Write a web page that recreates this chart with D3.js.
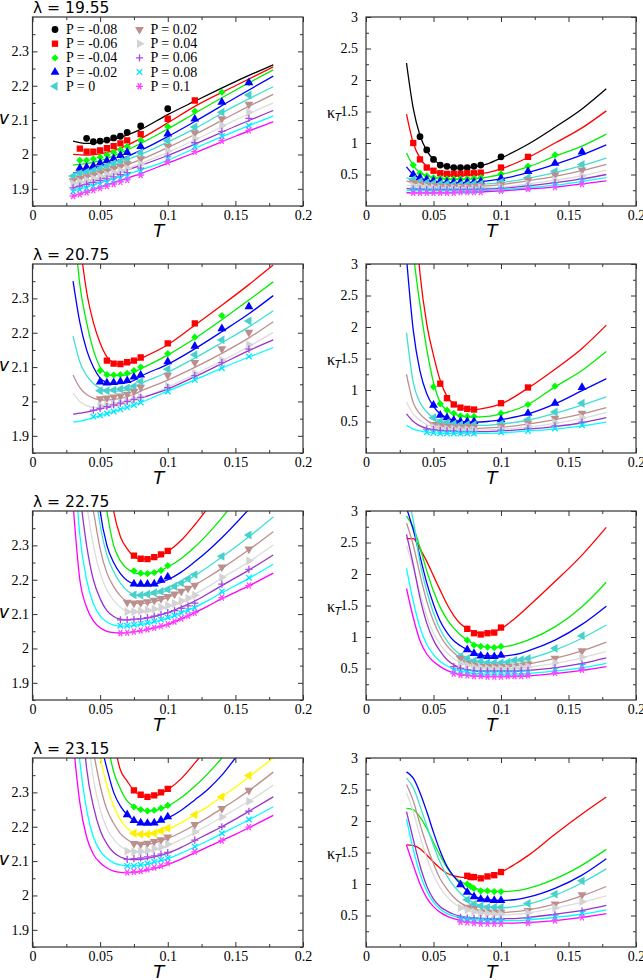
<!DOCTYPE html>
<html>
<head>
<meta charset="utf-8">
<script src="https://cdn.jsdelivr.net/npm/d3@7"></script>
<style>
body { margin: 0; background: #fff; }
svg { display: block; }
.serif { font-family: "Liberation Serif", "Times New Roman", Times, serif; }
.sans { font-family: "DejaVu Sans", sans-serif; }
</style>
</head>
<body>
<script>
// series: one per pressure
var pLabels = ["P = -0.08", "P = -0.06", "P = -0.04", "P = -0.02", "P = 0",
               "P = 0.02", "P = 0.04", "P = 0.06", "P = 0.08", "P = 0.1"];
var lineColors = ["#000000", "#ff0000", "#00ee00", "#0000ff", "#40e0d0",
                  "#bc8f8f", "#dcdcdc", "#9932cc", "#00ffff", "#ff00ff"];
var markColors = ["#000000", "#ff0000", "#00ff00", "#0000ff", "#48d1cc",
                  "#bc8f8f", "#d3d3d3", "#a64ce6", "#00e5ff", "#ff44ff"];
var shapes = ["circle", "square", "diamond", "up", "left", "down", "right", "plus", "cross", "star"];

// lambda = 19.55, v
var aLineT = [0.03, 0.04, 0.05, 0.06, 0.08, 0.1, 0.12, 0.15, 0.178];
var aLineV = [
  [2.039, 2.032, 2.036, 2.044, 2.073, 2.116, 2.155, 2.212, 2.261],
  [2.000, 1.998, 2.002, 2.011, 2.046, 2.092, 2.140, 2.200, 2.255],
  [1.969, 1.973, 1.982, 1.996, 2.032, 2.074, 2.120, 2.187, 2.246],
  [1.946, 1.955, 1.965, 1.978, 2.012, 2.052, 2.096, 2.165, 2.228],
  [1.937, 1.946, 1.957, 1.970, 2.000, 2.036, 2.075, 2.142, 2.197],
  [1.926, 1.934, 1.945, 1.957, 1.985, 2.020, 2.058, 2.120, 2.175],
  [1.914, 1.924, 1.935, 1.946, 1.974, 2.006, 2.042, 2.100, 2.150],
  [1.903, 1.915, 1.928, 1.941, 1.968, 1.997, 2.030, 2.082, 2.128],
  [1.894, 1.905, 1.917, 1.929, 1.955, 1.983, 2.018, 2.068, 2.112],
  [1.879, 1.892, 1.905, 1.918, 1.944, 1.975, 2.005, 2.053, 2.095]
];
var aMarkT = [0.03, 0.035, 0.04, 0.045, 0.05, 0.055, 0.06, 0.065, 0.07, 0.08, 0.1, 0.12, 0.14, 0.16];
var aMarkV = [
  [null, null, 2.047, 2.037, 2.039, 2.042, 2.048, 2.053, 2.064, 2.083, 2.133, null, null, null],
  [null, 2.017, 2.008, 2.008, 2.012, 2.018, 2.024, 2.032, 2.041, 2.059, 2.104, 2.157, null, null],
  [null, 1.983, 1.983, 1.987, 1.992, 1.999, 2.006, 2.014, 2.023, 2.041, 2.081, 2.126, 2.181, 2.209],
  [null, 1.960, 1.963, 1.967, 1.975, 1.982, 1.988, 1.997, 2.006, 2.023, 2.060, 2.103, 2.152, 2.209],
  [1.937, 1.945, 1.949, 1.953, 1.959, 1.966, 1.974, 1.980, 1.987, 2.005, 2.040, 2.080, 2.123, 2.173],
  [1.923, 1.930, 1.935, 1.940, 1.946, 1.952, 1.959, 1.965, 1.973, 1.987, 2.024, 2.063, 2.104, 2.146],
  [1.915, 1.920, 1.925, 1.930, 1.936, 1.941, 1.947, 1.953, 1.959, 1.972, 2.010, 2.046, 2.084, 2.123],
  [1.903, 1.908, 1.913, 1.918, 1.924, 1.929, 1.935, 1.941, 1.947, 1.960, 1.995, 2.034, 2.067, 2.105],
  [1.892, 1.897, 1.902, 1.907, 1.913, 1.918, 1.924, 1.930, 1.936, 1.950, 1.987, 2.023, 2.053, 2.084],
  [1.879, 1.884, 1.890, 1.896, 1.902, 1.908, 1.914, 1.920, 1.926, 1.940, 1.978, 2.008, 2.040, 2.070]
];

// lambda = 19.55, kappa_T
var bLineT = [0.03, 0.035, 0.04, 0.045, 0.05, 0.055, 0.06, 0.07, 0.08, 0.09, 0.1, 0.12, 0.14, 0.16, 0.178];
var bLineK = [
  [2.27, 1.55, 1.12, 0.88, 0.74, 0.66, 0.62, 0.60, 0.62, 0.67, 0.76, 0.98, 1.25, 1.54, 1.86],
  [1.46, 1.00, 0.76, 0.63, 0.56, 0.52, 0.50, 0.49, 0.50, 0.53, 0.59, 0.77, 1.00, 1.24, 1.51],
  [0.84, 0.64, 0.53, 0.48, 0.45, 0.44, 0.43, 0.42, 0.43, 0.46, 0.50, 0.62, 0.79, 0.95, 1.14],
  [0.62, 0.50, 0.44, 0.41, 0.39, 0.38, 0.37, 0.37, 0.38, 0.40, 0.43, 0.53, 0.66, 0.81, 0.97],
  [0.45, 0.41, 0.38, 0.36, 0.35, 0.345, 0.34, 0.33, 0.34, 0.35, 0.37, 0.44, 0.53, 0.64, 0.76],
  [0.40, 0.37, 0.35, 0.33, 0.32, 0.315, 0.31, 0.31, 0.31, 0.32, 0.34, 0.40, 0.47, 0.56, 0.66],
  [0.33, 0.32, 0.31, 0.30, 0.29, 0.285, 0.28, 0.28, 0.28, 0.29, 0.30, 0.35, 0.41, 0.48, 0.57],
  [0.28, 0.27, 0.27, 0.26, 0.26, 0.26, 0.26, 0.26, 0.26, 0.27, 0.28, 0.32, 0.37, 0.43, 0.50],
  [0.25, 0.245, 0.24, 0.24, 0.24, 0.24, 0.24, 0.24, 0.24, 0.25, 0.26, 0.29, 0.33, 0.39, 0.45],
  [0.21, 0.21, 0.21, 0.21, 0.21, 0.21, 0.21, 0.22, 0.22, 0.23, 0.24, 0.27, 0.30, 0.35, 0.40]
];
var bMarkT = [0.035, 0.04, 0.045, 0.05, 0.055, 0.06, 0.065, 0.07, 0.075, 0.08, 0.085, 0.1, 0.12, 0.14, 0.16];
var bMarkK = [
  [null, 1.10, 0.89, 0.74, 0.65, 0.63, 0.61, 0.61, 0.61, 0.63, 0.65, 0.78, null, null, null],
  [1.00, 0.74, 0.61, 0.56, 0.52, 0.51, 0.51, 0.51, 0.52, 0.52, 0.53, 0.61, 0.78, null, null],
  [0.65, 0.52, 0.48, 0.45, 0.44, 0.43, 0.43, 0.43, 0.43, 0.44, 0.45, 0.51, 0.63, 0.81, null],
  [0.50, 0.45, 0.42, 0.40, 0.39, 0.38, 0.38, 0.38, 0.38, 0.38, 0.39, 0.44, 0.55, 0.68, 0.86],
  [0.42, 0.39, 0.37, 0.36, 0.35, 0.35, 0.34, 0.34, 0.34, 0.35, 0.35, 0.38, 0.45, 0.55, 0.66],
  [0.37, 0.35, 0.33, 0.32, 0.31, 0.31, 0.31, 0.31, 0.31, 0.31, 0.32, 0.34, 0.41, 0.49, 0.57],
  [0.32, 0.31, 0.30, 0.29, 0.28, 0.28, 0.28, 0.28, 0.28, 0.28, 0.29, 0.30, 0.35, 0.41, 0.48],
  [0.27, 0.27, 0.26, 0.26, 0.26, 0.26, 0.26, 0.26, 0.26, 0.26, 0.27, 0.28, 0.32, 0.37, 0.43],
  [0.25, 0.24, 0.24, 0.24, 0.24, 0.24, 0.24, 0.24, 0.24, 0.24, 0.25, 0.26, 0.29, 0.33, 0.39],
  [0.21, 0.21, 0.21, 0.21, 0.21, 0.21, 0.21, 0.22, 0.22, 0.22, 0.22, 0.24, 0.27, 0.30, 0.35]
];

// lambda = 20.75, v
var cLineT = [0.03, 0.035, 0.04, 0.045, 0.05, 0.055, 0.06, 0.065, 0.07, 0.075, 0.08, 0.1, 0.12, 0.14, 0.16, 0.178];
var cLineV = [
  null,
  [2.7, 2.47, 2.32, 2.23, 2.17, 2.13, 2.113, 2.108, 2.11, 2.116, 2.125, 2.165, 2.222, 2.28, 2.34, 2.397],
  [2.55, 2.34, 2.23, 2.15, 2.10, 2.08, 2.075, 2.075, 2.078, 2.085, 2.095, 2.135, 2.183, 2.238, 2.295, 2.348],
  [2.35, 2.23, 2.15, 2.10, 2.068, 2.055, 2.052, 2.052, 2.055, 2.061, 2.073, 2.108, 2.153, 2.203, 2.255, 2.308],
  [2.19, 2.115, 2.075, 2.052, 2.038, 2.032, 2.030, 2.031, 2.034, 2.042, 2.052, 2.085, 2.126, 2.171, 2.217, 2.264],
  [2.077, 2.04, 2.02, 2.01, 2.005, 2.004, 2.006, 2.009, 2.014, 2.021, 2.030, 2.062, 2.099, 2.140, 2.185, 2.232],
  [2.024, 2.0, 1.988, 1.983, 1.982, 1.984, 1.987, 1.991, 1.996, 2.002, 2.008, 2.042, 2.079, 2.118, 2.160, 2.201],
  [1.963, 1.966, 1.969, 1.973, 1.978, 1.982, 1.987, 1.992, 1.998, 2.004, 2.010, 2.036, 2.072, 2.110, 2.148, 2.179],
  [1.940, 1.943, 1.947, 1.953, 1.959, 1.965, 1.971, 1.977, 1.983, 1.990, 1.997, 2.030, 2.063, 2.097, 2.129, 2.157],
  null
];
var cMarkT = [0.045, 0.05, 0.055, 0.06, 0.065, 0.07, 0.075, 0.08, 0.1, 0.12, 0.14, 0.16];
var cMarkV = [
  null,
  [null, null, 2.119, 2.110, 2.109, 2.114, 2.119, 2.128, 2.169, 2.227, null, null],
  [null, 2.090, 2.078, 2.077, 2.078, 2.082, 2.090, 2.100, 2.139, 2.187, 2.250, null],
  [null, 2.057, 2.054, 2.055, 2.058, 2.061, 2.071, 2.077, 2.116, 2.161, 2.212, 2.276],
  [null, 2.031, 2.031, 2.033, 2.036, 2.039, 2.044, 2.058, 2.094, 2.136, 2.179, 2.234],
  [null, 2.008, 2.010, 2.013, 2.016, 2.021, 2.029, 2.041, 2.076, 2.113, 2.153, 2.201],
  [null, 1.988, 1.990, 1.993, 1.997, 2.001, 2.007, 2.013, 2.045, 2.082, 2.120, 2.165],
  [1.975, 1.980, 1.985, 1.990, 1.995, 2.000, 2.006, 2.012, 2.040, 2.075, 2.113, 2.152],
  [1.956, 1.960, 1.965, 1.971, 1.977, 1.983, 1.990, 1.997, 2.029, 2.063, 2.097, 2.131],
  null
];

// lambda = 20.75, kappa_T
var dLineT = [0.03, 0.035, 0.04, 0.045, 0.05, 0.055, 0.06, 0.065, 0.07, 0.08, 0.09, 0.1, 0.12, 0.14, 0.16, 0.178];
var dLineK = [
  null,
  [null, 4.2, 2.85, 2.05, 1.55, 1.15, 0.90, 0.78, 0.72, 0.69, 0.72, 0.78, 1.03, 1.33, 1.66, 2.03],
  [4.5, 3.2, 2.35, 1.65, 1.12, 0.80, 0.68, 0.62, 0.59, 0.57, 0.58, 0.62, 0.77, 1.05, 1.31, 1.61],
  [3.1, 1.95, 1.30, 0.94, 0.74, 0.62, 0.56, 0.52, 0.50, 0.49, 0.50, 0.53, 0.62, 0.78, 0.99, 1.18],
  [1.91, 1.12, 0.80, 0.65, 0.56, 0.51, 0.48, 0.46, 0.45, 0.44, 0.44, 0.46, 0.52, 0.63, 0.76, 0.89],
  [1.25, 0.80, 0.62, 0.52, 0.46, 0.43, 0.41, 0.40, 0.40, 0.39, 0.40, 0.41, 0.46, 0.53, 0.62, 0.72],
  [0.81, 0.62, 0.52, 0.45, 0.41, 0.39, 0.38, 0.37, 0.37, 0.36, 0.37, 0.38, 0.41, 0.47, 0.55, 0.64],
  [0.62, 0.50, 0.43, 0.39, 0.37, 0.36, 0.35, 0.34, 0.34, 0.34, 0.34, 0.35, 0.38, 0.42, 0.48, 0.56],
  [0.44, 0.38, 0.35, 0.33, 0.32, 0.315, 0.31, 0.31, 0.31, 0.31, 0.31, 0.32, 0.35, 0.38, 0.43, 0.49],
  null
];
var dMarkT = [0.045, 0.05, 0.055, 0.06, 0.065, 0.07, 0.075, 0.08, 0.1, 0.12, 0.14, 0.16];
var dMarkK = [
  null,
  [null, null, 1.10, 0.87, 0.77, 0.72, 0.70, 0.69, 0.79, 1.04, null, null],
  [null, 1.05, 0.78, 0.68, 0.63, 0.59, 0.58, 0.58, 0.63, 0.77, 1.06, null],
  [null, 0.76, 0.60, 0.56, 0.52, 0.50, 0.50, 0.50, 0.53, 0.63, 0.79, 1.04],
  [null, 0.56, 0.50, 0.48, 0.46, 0.45, 0.45, 0.45, 0.46, 0.53, 0.65, 0.79],
  [null, 0.45, 0.43, 0.42, 0.41, 0.41, 0.41, 0.41, 0.42, 0.47, 0.55, 0.63],
  [null, 0.41, 0.39, 0.38, 0.38, 0.37, 0.37, 0.37, 0.38, 0.42, 0.48, 0.56],
  [0.38, 0.37, 0.36, 0.35, 0.35, 0.34, 0.34, 0.34, 0.36, 0.39, 0.43, 0.49],
  [0.33, 0.32, 0.31, 0.31, 0.31, 0.31, 0.31, 0.31, 0.33, 0.35, 0.39, 0.44],
  null
];

// lambda = 22.75, v
var eLineT = [0.03, 0.035, 0.04, 0.045, 0.05, 0.055, 0.06, 0.065, 0.07, 0.08, 0.09, 0.1, 0.11, 0.12, 0.13, 0.14, 0.16, 0.178];
var eLineV = [
  null,
  [null, null, null, null, null, 2.55, 2.40, 2.325, 2.29, 2.260, 2.262, 2.282, 2.315, 2.36, 2.41, 2.46, null, null],
  [null, null, null, null, 2.55, 2.40, 2.30, 2.255, 2.232, 2.217, 2.221, 2.237, 2.262, 2.295, 2.335, 2.38, 2.48, null],
  [null, null, null, 2.6, 2.40, 2.30, 2.25, 2.218, 2.198, 2.184, 2.187, 2.2, 2.222, 2.252, 2.285, 2.322, 2.405, null],
  [null, null, null, 2.5, 2.36, 2.272, 2.224, 2.19, 2.168, 2.153, 2.158, 2.168, 2.188, 2.212, 2.238, 2.266, 2.325, 2.383],
  [null, null, 2.5, 2.40, 2.29, 2.22, 2.18, 2.153, 2.137, 2.130, 2.136, 2.148, 2.165, 2.185, 2.208, 2.233, 2.287, 2.34],
  [null, null, 2.42, 2.30, 2.22, 2.17, 2.14, 2.12, 2.108, 2.104, 2.11, 2.12, 2.138, 2.158, 2.18, 2.205, 2.252, 2.301],
  [null, 2.45, 2.30, 2.20, 2.145, 2.11, 2.093, 2.085, 2.083, 2.086, 2.093, 2.104, 2.12, 2.138, 2.16, 2.183, 2.228, 2.272],
  [2.6, 2.33, 2.20, 2.13, 2.095, 2.077, 2.068, 2.065, 2.065, 2.07, 2.077, 2.088, 2.104, 2.12, 2.14, 2.162, 2.204, 2.245],
  [2.42, 2.20, 2.12, 2.08, 2.06, 2.05, 2.046, 2.045, 2.046, 2.051, 2.06, 2.07, 2.086, 2.104, 2.124, 2.145, 2.182, 2.219]
];
var eMarkT = [0.065, 0.07, 0.075, 0.08, 0.085, 0.09, 0.095, 0.1, 0.105, 0.11, 0.115, 0.12, 0.14, 0.16];
var eMarkV = [
  null,
  [null, null, 2.270, 2.261, 2.260, 2.266, 2.274, 2.284, null, null, null, null, null, null],
  [null, null, 2.226, 2.219, 2.218, 2.221, 2.227, 2.241, null, null, null, null, null, null],
  [null, null, 2.188, 2.187, 2.187, 2.188, 2.199, 2.208, null, null, null, null, null, null],
  [null, null, 2.156, 2.155, 2.158, 2.162, 2.166, 2.172, 2.181, 2.191, 2.203, 2.215, 2.268, 2.330],
  [null, 2.134, 2.132, 2.133, 2.136, 2.140, 2.145, 2.151, 2.158, 2.166, 2.175, 2.184, 2.237, 2.289],
  [null, 2.107, 2.107, 2.109, 2.112, 2.115, 2.120, 2.125, 2.131, 2.138, 2.146, 2.155, 2.207, 2.255],
  [2.083, 2.083, 2.085, 2.087, 2.090, 2.094, 2.099, 2.104, 2.110, 2.117, 2.124, 2.132, 2.187, 2.230],
  [2.066, 2.066, 2.069, 2.072, 2.075, 2.079, 2.084, 2.090, 2.096, 2.103, 2.110, 2.118, 2.166, 2.206],
  [2.045, 2.046, 2.049, 2.052, 2.056, 2.060, 2.065, 2.070, 2.078, 2.087, 2.095, 2.104, 2.148, 2.183]
];

// lambda = 22.75, kappa_T
var fLineT = [0.03, 0.035, 0.04, 0.045, 0.05, 0.055, 0.06, 0.065, 0.07, 0.075, 0.08, 0.085, 0.09, 0.1, 0.11, 0.12, 0.14, 0.16, 0.178];
var fLineK = [
  null,
  [2.56, 2.56, 2.40, 2.20, 1.97, 1.74, 1.52, 1.34, 1.21, 1.13, 1.08, 1.065, 1.07, 1.13, 1.29, 1.48, 1.88, 2.30, 2.74],
  [2.92, 2.74, 2.42, 2.05, 1.73, 1.47, 1.28, 1.14, 1.03, 0.95, 0.89, 0.86, 0.84, 0.84, 0.88, 0.95, 1.16, 1.48, 1.87],
  [3.05, 2.70, 2.28, 1.86, 1.52, 1.25, 1.07, 0.94, 0.86, 0.80, 0.75, 0.72, 0.70, 0.70, 0.72, 0.78, 0.95, 1.20, 1.49],
  [3.3, 2.85, 2.18, 1.73, 1.38, 1.12, 0.94, 0.81, 0.72, 0.67, 0.63, 0.61, 0.60, 0.59, 0.61, 0.65, 0.79, 0.98, 1.19],
  [2.81, 2.46, 1.99, 1.57, 1.25, 1.02, 0.86, 0.75, 0.66, 0.60, 0.56, 0.54, 0.53, 0.53, 0.54, 0.57, 0.66, 0.78, 0.92],
  [2.45, 2.10, 1.70, 1.33, 1.06, 0.88, 0.75, 0.66, 0.59, 0.55, 0.52, 0.51, 0.50, 0.49, 0.50, 0.52, 0.58, 0.67, 0.77],
  [2.63, 2.15, 1.62, 1.22, 0.95, 0.77, 0.64, 0.56, 0.51, 0.48, 0.46, 0.455, 0.45, 0.45, 0.45, 0.47, 0.51, 0.58, 0.67],
  [2.09, 1.57, 1.15, 0.88, 0.72, 0.61, 0.54, 0.49, 0.46, 0.44, 0.42, 0.415, 0.41, 0.41, 0.41, 0.42, 0.46, 0.51, 0.58],
  [1.77, 1.31, 0.94, 0.73, 0.61, 0.53, 0.47, 0.43, 0.40, 0.39, 0.38, 0.375, 0.37, 0.37, 0.37, 0.38, 0.42, 0.47, 0.53]
];
var fMarkT = [0.065, 0.07, 0.075, 0.08, 0.085, 0.09, 0.095, 0.1, 0.105, 0.11, 0.115, 0.12, 0.14, 0.16];
var fMarkK = [
  null,
  [null, null, 1.13, 1.06, 1.04, 1.06, 1.07, 1.15, null, null, null, null, null, null],
  [null, null, 0.95, 0.87, 0.85, 0.84, 0.83, 0.85, null, null, null, null, null, null],
  [null, null, 0.80, 0.74, 0.70, 0.69, 0.69, 0.71, null, null, null, null, null, null],
  [null, 0.69, 0.66, 0.62, 0.61, 0.59, 0.59, 0.59, 0.60, 0.63, 0.64, 0.66, 0.82, 1.02],
  [null, 0.66, 0.58, 0.55, 0.53, 0.53, 0.53, 0.53, 0.53, 0.54, 0.55, 0.57, 0.66, 0.78],
  [null, 0.58, 0.55, 0.52, 0.51, 0.50, 0.50, 0.50, 0.50, 0.51, 0.52, 0.53, 0.59, 0.68],
  [0.53, 0.50, 0.48, 0.47, 0.46, 0.46, 0.46, 0.46, 0.46, 0.46, 0.47, 0.47, 0.51, 0.57],
  [0.47, 0.45, 0.44, 0.43, 0.42, 0.42, 0.42, 0.42, 0.42, 0.42, 0.43, 0.43, 0.47, 0.53],
  [0.42, 0.40, 0.39, 0.38, 0.38, 0.37, 0.37, 0.37, 0.38, 0.38, 0.38, 0.39, 0.43, 0.48]
];

// lambda = 23.15, v
var gLineT = [0.03, 0.035, 0.04, 0.045, 0.05, 0.055, 0.06, 0.065, 0.07, 0.075, 0.08, 0.085, 0.09, 0.1, 0.11, 0.12, 0.13, 0.14, 0.15, 0.16, 0.178];
var gLineV = [
  null,
  [null, null, null, null, null, null, 2.45, 2.365, 2.333, 2.305, 2.292, 2.287, 2.289, 2.308, 2.34, 2.385, 2.435, null, null, null, null],
  [null, null, null, null, null, 2.45, 2.36, 2.31, 2.275, 2.258, 2.25, 2.246, 2.247, 2.26, 2.285, 2.318, 2.356, 2.40, 2.45, null, null],
  [null, null, null, null, 2.45, 2.37, 2.30, 2.26, 2.235, 2.219, 2.211, 2.209, 2.211, 2.225, 2.248, 2.278, 2.31, 2.35, 2.40, 2.45, null],
  [null, null, null, 2.5, 2.40, 2.32, 2.26, 2.22, 2.196, 2.182, 2.176, 2.175, 2.178, 2.192, 2.212, 2.235, 2.26, 2.287, 2.315, 2.345, 2.40],
  [null, null, null, 2.42, 2.32, 2.25, 2.21, 2.18, 2.163, 2.153, 2.149, 2.149, 2.153, 2.166, 2.184, 2.205, 2.228, 2.253, 2.278, 2.305, 2.359],
  [null, null, 2.5, 2.34, 2.25, 2.195, 2.163, 2.143, 2.132, 2.127, 2.125, 2.127, 2.131, 2.145, 2.163, 2.183, 2.205, 2.228, 2.251, 2.274, 2.321],
  [null, 2.6, 2.37, 2.26, 2.19, 2.15, 2.125, 2.112, 2.106, 2.104, 2.105, 2.108, 2.112, 2.123, 2.14, 2.16, 2.18, 2.20, 2.222, 2.245, 2.287],
  [2.6, 2.39, 2.25, 2.17, 2.13, 2.108, 2.095, 2.089, 2.086, 2.086, 2.088, 2.091, 2.096, 2.107, 2.123, 2.141, 2.16, 2.18, 2.20, 2.22, 2.258],
  [2.45, 2.27, 2.17, 2.12, 2.095, 2.08, 2.071, 2.067, 2.066, 2.067, 2.07, 2.073, 2.078, 2.09, 2.106, 2.124, 2.142, 2.16, 2.178, 2.197, 2.233]
];
var gMarkT = [0.07, 0.075, 0.08, 0.085, 0.09, 0.095, 0.1, 0.12, 0.14, 0.16];
var gMarkV = [
  null,
  [null, 2.306, 2.293, 2.287, 2.291, 2.300, 2.310, null, null, null],
  [null, 2.258, 2.250, 2.246, 2.248, 2.254, 2.262, null, null, null],
  [2.235, 2.218, 2.211, 2.210, 2.211, 2.219, 2.229, null, null, null],
  [null, 2.181, 2.178, 2.178, 2.181, 2.188, 2.196, 2.235, 2.287, 2.349],
  [null, 2.151, 2.149, 2.152, 2.157, 2.162, 2.170, 2.206, 2.253, 2.306],
  [2.129, 2.127, 2.128, 2.131, 2.136, 2.141, 2.149, 2.185, 2.228, 2.274],
  [2.105, 2.107, 2.109, 2.112, 2.115, 2.120, 2.125, 2.161, 2.200, 2.245],
  [2.086, 2.086, 2.089, 2.093, 2.098, 2.104, 2.109, 2.142, 2.181, 2.221],
  [2.067, 2.069, 2.071, 2.076, 2.081, 2.086, 2.094, 2.127, 2.160, 2.199]
];

// lambda = 23.15, kappa_T
var hLineT = [0.03, 0.035, 0.04, 0.045, 0.05, 0.055, 0.06, 0.065, 0.07, 0.075, 0.08, 0.085, 0.09, 0.1, 0.11, 0.12, 0.14, 0.16, 0.178];
var hLineK = [
  null,
  [1.62, 1.61, 1.56, 1.46, 1.35, 1.25, 1.17, 1.13, 1.11, 1.10, 1.10, 1.10, 1.12, 1.19, 1.31, 1.45, 1.79, 2.11, 2.38],
  [2.20, 2.18, 2.06, 1.88, 1.66, 1.45, 1.26, 1.12, 1.04, 0.99, 0.94, 0.91, 0.89, 0.88, 0.89, 0.93, 1.08, 1.30, 1.55],
  [2.78, 2.68, 2.45, 2.15, 1.82, 1.52, 1.28, 1.12, 1.00, 0.89, 0.81, 0.77, 0.75, 0.74, 0.75, 0.79, 0.93, 1.14, 1.40],
  [2.68, 2.53, 2.24, 1.92, 1.61, 1.34, 1.13, 0.97, 0.85, 0.76, 0.70, 0.66, 0.64, 0.62, 0.64, 0.68, 0.82, 1.02, 1.24],
  [2.58, 2.32, 1.95, 1.61, 1.32, 1.08, 0.92, 0.79, 0.70, 0.64, 0.60, 0.57, 0.56, 0.55, 0.56, 0.59, 0.68, 0.81, 0.96],
  [2.45, 2.15, 1.76, 1.42, 1.14, 0.94, 0.80, 0.70, 0.63, 0.58, 0.55, 0.53, 0.52, 0.51, 0.52, 0.54, 0.62, 0.71, 0.81],
  [2.15, 1.71, 1.29, 0.97, 0.76, 0.64, 0.57, 0.52, 0.49, 0.47, 0.46, 0.455, 0.45, 0.45, 0.45, 0.47, 0.52, 0.58, 0.66],
  [2.03, 1.55, 1.16, 0.89, 0.71, 0.60, 0.53, 0.49, 0.46, 0.44, 0.43, 0.425, 0.42, 0.42, 0.42, 0.43, 0.47, 0.52, 0.59],
  [1.62, 1.30, 1.00, 0.78, 0.64, 0.55, 0.49, 0.45, 0.42, 0.40, 0.39, 0.385, 0.38, 0.38, 0.38, 0.39, 0.42, 0.47, 0.53]
];
var hMarkT = [0.07, 0.075, 0.0775, 0.08, 0.085, 0.09, 0.095, 0.1, 0.12, 0.14, 0.16];
var hMarkK = [
  null,
  [null, 1.13, 1.11, 1.11, 1.09, 1.12, 1.14, 1.19, null, null, null],
  [null, 1.00, 0.96, 0.93, 0.89, 0.89, 0.88, 0.88, null, null, null],
  [0.99, 0.87, null, 0.80, 0.76, 0.75, 0.74, 0.74, null, null, null],
  [null, 0.75, null, 0.68, 0.65, 0.63, 0.63, 0.63, 0.69, 0.84, 1.05],
  [null, 0.63, null, 0.61, 0.56, 0.55, 0.55, 0.55, 0.58, 0.68, 0.83],
  [0.62, 0.59, null, 0.56, 0.54, 0.53, 0.52, 0.52, 0.54, 0.62, 0.72],
  [0.47, 0.46, null, 0.45, 0.45, 0.44, 0.44, 0.44, 0.46, 0.51, 0.57],
  [0.45, 0.44, null, 0.43, 0.42, 0.42, 0.42, 0.42, 0.43, 0.47, 0.53],
  [0.40, 0.39, null, 0.38, 0.37, 0.37, 0.37, 0.37, 0.38, 0.42, 0.47]
];

var panels = [
  {id: "a", row: 0, col: 0, kind: "v", title: "λ = 19.55", lineT: aLineT, lines: aLineV, markT: aMarkT, marks: aMarkV, legend: true},
  {id: "b", row: 0, col: 1, kind: "k", lineT: bLineT, lines: bLineK, markT: bMarkT, marks: bMarkK},
  {id: "c", row: 1, col: 0, kind: "v", title: "λ = 20.75", lineT: cLineT, lines: cLineV, markT: cMarkT, marks: cMarkV},
  {id: "d", row: 1, col: 1, kind: "k", lineT: dLineT, lines: dLineK, markT: dMarkT, marks: dMarkK},
  {id: "e", row: 2, col: 0, kind: "v", title: "λ = 22.75", lineT: eLineT, lines: eLineV, markT: eMarkT, marks: eMarkV},
  {id: "f", row: 2, col: 1, kind: "k", lineT: fLineT, lines: fLineK, markT: fMarkT, marks: fMarkK},
  {id: "g", row: 3, col: 0, kind: "v", title: "λ = 23.15", lineT: gLineT, lines: gLineV, markT: gMarkT, marks: gMarkV, yellowZero: true},
  {id: "h", row: 3, col: 1, kind: "k", lineT: hLineT, lines: hLineK, markT: hMarkT, marks: hMarkK}
];

var rowTop = [17, 264, 511, 758];
var plotH = 189;
var colRange = [[32.5, 303], [366, 636]];

var svg = d3.select("body").append("svg")
  .attr("width", 643)
  .attr("height", 980);

function addMarker(sel, shape, color, cx, cy) {
  var rot = {up: 0, right: 90, down: 180, left: -90};
  var path, filled = true, angle = 0;
  if (shape === "circle") path = d3.symbol(d3.symbolCircle, 36)();
  else if (shape === "square") path = d3.symbol(d3.symbolSquare, 40)();
  else if (shape === "diamond") { path = d3.symbol(d3.symbolSquare, 26)(); angle = 45; }
  else if (shape in rot) { path = d3.symbol(d3.symbolTriangle, 34)(); angle = rot[shape]; }
  else if (shape === "plus") { path = "M-3.6,0H3.6M0,-3.6V3.6"; filled = false; }
  else if (shape === "cross") { path = "M-2.8,-2.8L2.8,2.8M-2.8,2.8L2.8,-2.8"; filled = false; }
  else { path = "M-3.5,0H3.5M-1.8,-3.1L1.8,3.1M-1.8,3.1L1.8,-3.1"; filled = false; }
  sel.append("path")
    .attr("d", path)
    .attr("transform", "translate(" + cx + "," + cy + ") rotate(" + angle + ")")
    .attr("fill", filled ? color : "none")
    .attr("stroke", filled ? "none" : color)
    .attr("stroke-width", 1.3);
}

function styleAxis(g) {
  g.attr("font-family", null).attr("font-size", null);
  g.select(".domain").remove();
  g.selectAll(".tick line").attr("stroke", "#333").attr("stroke-width", 1);
  g.selectAll(".tick text")
    .attr("class", "serif")
    .attr("fill", "#000")
    .style("font-size", "14px");
}

function drawPanel(p) {
  var top = rowTop[p.row], bottom = top + plotH;
  var x = d3.scaleLinear().domain([0, 0.2]).range(colRange[p.col]);
  var isV = p.kind === "v";
  var y = d3.scaleLinear().domain(isV ? [1.85, 2.4] : [0, 3]).range([bottom, top]);
  var x0 = x.range()[0], x1 = x.range()[1];

  var xMajor = [0, 0.05, 0.1, 0.15, 0.2];
  var xMinor = [0.025, 0.075, 0.125, 0.175];
  var yMajor = isV ? [1.9, 2, 2.1, 2.2, 2.3] : [0.5, 1, 1.5, 2, 2.5, 3];
  var yMinor = isV ? [1.85, 1.95, 2.05, 2.15, 2.25, 2.35] : [0.25, 0.75, 1.25, 1.75, 2.25, 2.75];

  var g = svg.append("g");

  // ticks on all four sides, pointing inward
  g.append("g").attr("transform", "translate(0," + bottom + ")")
    .call(d3.axisBottom(x).tickValues(xMajor).tickSizeInner(-5).tickSizeOuter(0).tickPadding(4)
      .tickFormat(function(d) { return String(d); }))
    .call(styleAxis);
  g.append("g").attr("transform", "translate(0," + bottom + ")")
    .call(d3.axisBottom(x).tickValues(xMinor).tickSizeInner(-3).tickSizeOuter(0).tickFormat(""))
    .call(styleAxis);
  g.append("g").attr("transform", "translate(0," + top + ")")
    .call(d3.axisTop(x).tickValues(xMajor).tickSizeInner(-5).tickSizeOuter(0).tickFormat(""))
    .call(styleAxis);
  g.append("g").attr("transform", "translate(0," + top + ")")
    .call(d3.axisTop(x).tickValues(xMinor).tickSizeInner(-3).tickSizeOuter(0).tickFormat(""))
    .call(styleAxis);
  g.append("g").attr("transform", "translate(" + x0 + ",0)")
    .call(d3.axisLeft(y).tickValues(yMajor).tickSizeInner(-5).tickSizeOuter(0)
      .tickPadding(p.col === 0 ? 3.5 : 8)
      .tickFormat(function(d) { return String(d); }))
    .call(styleAxis);
  g.append("g").attr("transform", "translate(" + x0 + ",0)")
    .call(d3.axisLeft(y).tickValues(yMinor).tickSizeInner(-3).tickSizeOuter(0).tickFormat(""))
    .call(styleAxis);
  g.append("g").attr("transform", "translate(" + x1 + ",0)")
    .call(d3.axisRight(y).tickValues(yMajor).tickSizeInner(-5).tickSizeOuter(0).tickFormat(""))
    .call(styleAxis);
  g.append("g").attr("transform", "translate(" + x1 + ",0)")
    .call(d3.axisRight(y).tickValues(yMinor).tickSizeInner(-3).tickSizeOuter(0).tickFormat(""))
    .call(styleAxis);

  // clip
  var clipId = "clip-" + p.id;
  svg.append("clipPath").attr("id", clipId)
    .append("rect").attr("x", x0).attr("y", top).attr("width", x1 - x0).attr("height", plotH);

  var plot = g.append("g").attr("clip-path", "url(#" + clipId + ")");

  var line = d3.line()
    .defined(function(d) { return d[1] != null; })
    .x(function(d) { return x(d[0]); })
    .y(function(d) { return y(d[1]); })
    .curve(d3.curveMonotoneX);

  p.lines.forEach(function(vals, i) {
    if (!vals) return;
    var col = (p.yellowZero && i === 4) ? "#ffff00" : lineColors[i];
    plot.append("path")
      .datum(p.lineT.map(function(t, j) { return [t, vals[j]]; }))
      .attr("d", line)
      .attr("fill", "none")
      .attr("stroke", col)
      .attr("stroke-width", 1.3);
  });

  p.marks.forEach(function(vals, i) {
    if (!vals) return;
    var col = (p.yellowZero && i === 4) ? "#ffee00" : markColors[i];
    var mg = plot.append("g");
    p.markT.forEach(function(t, j) {
      if (vals[j] == null) return;
      addMarker(mg, shapes[i], col, x(t), y(vals[j]));
    });
  });

  // frame
  g.append("rect")
    .attr("x", x0).attr("y", top)
    .attr("width", x1 - x0).attr("height", plotH)
    .attr("fill", "none")
    .attr("stroke", "#333")
    .attr("stroke-width", 1.2);

  // axis titles
  g.append("text")
    .attr("class", "sans")
    .attr("x", (x0 + x1) / 2 - 9)
    .attr("y", bottom + 31)
    .attr("text-anchor", "middle")
    .style("font-style", "italic")
    .style("font-size", "18px")
    .text("T");

  if (isV) {
    g.append("text")
      .attr("class", "sans")
      .attr("x", -1)
      .attr("y", top + 107)
      .style("font-style", "italic")
      .style("font-size", "17px")
      .text("v");
    g.append("text")
      .attr("class", "sans")
      .attr("x", 33)
      .attr("y", top - 4)
      .style("font-size", "15.5px")
      .text(p.title);
  } else {
    var kt = g.append("text")
      .attr("class", "serif")
      .attr("x", 327)
      .attr("y", top + 101)
      .style("font-size", "16px");
    kt.append("tspan").text("κ");
    kt.append("tspan")
      .attr("class", "sans")
      .attr("dy", 3)
      .style("font-style", "italic")
      .style("font-size", "10px")
      .text("T");
  }

  if (p.legend) {
    var lg = g.append("g");
    pLabels.forEach(function(lbl, i) {
      var c = Math.floor(i / 5), r = i % 5;
      var mx = c === 0 ? 55 : 139.5;
      var my = 29.5 + r * 14.2;
      addMarker(lg, shapes[i], markColors[i], mx, my);
      lg.append("text")
        .attr("class", "serif")
        .attr("x", mx + 11)
        .attr("y", my + 4.5)
        .style("font-size", "14px")
        .text(lbl);
    });
  }
}

panels.forEach(drawPanel);
</script>
</body>
</html>
